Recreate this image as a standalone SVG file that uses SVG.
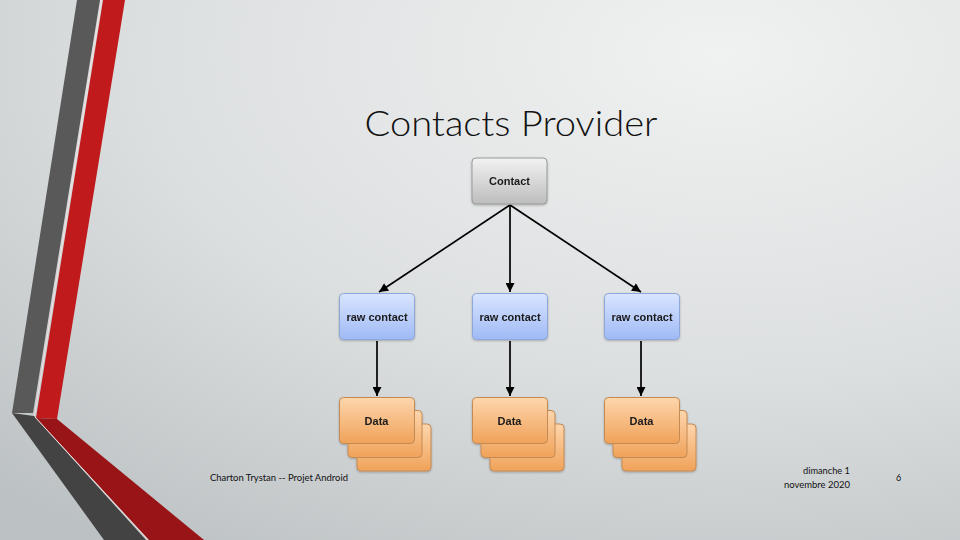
<svg xmlns="http://www.w3.org/2000/svg" width="960" height="540" viewBox="0 0 960 540">
<defs>
<radialGradient id="bg" cx="0.75" cy="0.1" r="1.1">
<stop offset="0" stop-color="#f0f1f1"/>
<stop offset="0.55" stop-color="#dcdfe0"/>
<stop offset="1" stop-color="#bcc1c3"/>
</radialGradient>
<linearGradient id="gGray" x1="0" y1="0" x2="0" y2="1">
<stop offset="0" stop-color="#f2f2f2"/>
<stop offset="1" stop-color="#bdbdbd"/>
</linearGradient>
<linearGradient id="gBlue" x1="0" y1="0" x2="0" y2="1">
<stop offset="0" stop-color="#d9e5ff"/>
<stop offset="1" stop-color="#9fbaf5"/>
</linearGradient>
<linearGradient id="gOrange" x1="0" y1="0" x2="0" y2="1">
<stop offset="0" stop-color="#fdd6ad"/>
<stop offset="1" stop-color="#f0a259"/>
</linearGradient>
<marker id="arr" viewBox="0 0 10 10" refX="10" refY="5" markerWidth="10" markerHeight="9" markerUnits="userSpaceOnUse" orient="auto">
<path d="M0,0 L10,5 L0,10 z" fill="#000"/>
</marker>
<filter id="sh" x="-10%" y="-10%" width="130%" height="130%">
<feDropShadow dx="0" dy="1" stdDeviation="0.8" flood-color="#000" flood-opacity="0.25"/>
</filter>
</defs>
<style>
.gray{fill:url(#gGray);stroke:#9a9a9a;stroke-width:1}
.blue{fill:url(#gBlue);stroke:#8ea6d8;stroke-width:1}
.orange{fill:url(#gOrange);stroke:#c48a52;stroke-width:1}
.lbl{font-family:"Liberation Sans",Arial,sans-serif;font-weight:bold;font-size:11px;fill:#1a1a1a;text-anchor:middle}
.conn line{stroke:#000;stroke-width:1.7;marker-end:url(#arr)}
.foot{font-family:Lato,"Open Sans",sans-serif;font-size:9px;fill:#111}
</style>
<rect width="960" height="540" fill="url(#bg)"/>
<g id="decor">
<polygon points="77,0 100,0 33,413 12,413" fill="#595959"/>
<polygon points="12,413 34,416 146,540 104,540" fill="#434343"/>
<polygon points="103,0 125,0 57,419 36,418" fill="#c01a1d"/>
<polygon points="36,418 57,419 204,540 149,540" fill="#981416"/>
<line x1="35" y1="417" x2="148" y2="540" stroke="#f0e0e0" stroke-width="1"/>
<line x1="101.5" y1="0" x2="34.5" y2="416" stroke="#f0e0e0" stroke-width="1"/>
</g>
<text id="title" x="511" y="136" font-family="Lato,'Open Sans',sans-serif" font-weight="300" font-size="36" fill="#111" text-anchor="middle" textLength="293" lengthAdjust="spacingAndGlyphs">Contacts Provider</text>
<g class="conn" id="connectors">
<line x1="510" y1="205" x2="379" y2="292"/>
<line x1="510" y1="205" x2="510" y2="292"/>
<line x1="510" y1="205" x2="641" y2="292"/>
<line x1="377" y1="341" x2="377" y2="396"/>
<line x1="510" y1="341" x2="510" y2="396"/>
<line x1="641" y1="341" x2="641" y2="396"/>
</g>
<g id="contact" filter="url(#sh)">
<rect class="gray" x="472" y="158" width="75" height="46" rx="4"/>
<text class="lbl" x="509.5" y="185">Contact</text>
</g>
<g id="raw1" filter="url(#sh)">
<rect class="blue" x="339.5" y="293.5" width="75" height="46" rx="4"/>
<text class="lbl" x="377" y="321">raw contact</text>
</g>
<g id="raw2" filter="url(#sh)">
<rect class="blue" x="472.5" y="293.5" width="75" height="46" rx="4"/>
<text class="lbl" x="510" y="321">raw contact</text>
</g>
<g id="raw3" filter="url(#sh)">
<rect class="blue" x="604.5" y="293.5" width="75" height="46" rx="4"/>
<text class="lbl" x="642" y="321">raw contact</text>
</g>
<g id="data1" filter="url(#sh)">
<rect class="orange" x="357" y="424" width="74" height="47" rx="4"/>
<rect class="orange" x="348" y="410.5" width="74" height="47" rx="4"/>
<rect class="orange" x="339.5" y="397.5" width="75" height="46" rx="4"/>
<text class="lbl" x="376.5" y="425">Data</text>
</g>
<g id="data2" filter="url(#sh)">
<rect class="orange" x="490" y="424" width="74" height="47" rx="4"/>
<rect class="orange" x="481" y="410.5" width="74" height="47" rx="4"/>
<rect class="orange" x="472.5" y="397.5" width="75" height="46" rx="4"/>
<text class="lbl" x="509.5" y="425">Data</text>
</g>
<g id="data3" filter="url(#sh)">
<rect class="orange" x="622" y="424" width="74" height="47" rx="4"/>
<rect class="orange" x="613" y="410.5" width="74" height="47" rx="4"/>
<rect class="orange" x="604.5" y="397.5" width="75" height="46" rx="4"/>
<text class="lbl" x="641.5" y="425">Data</text>
</g>
<g id="footer">
<text class="foot" x="210" y="481" textLength="138" lengthAdjust="spacingAndGlyphs">Charton Trystan -- Projet Android</text>
<text class="foot" x="850" y="474" text-anchor="end" textLength="47" lengthAdjust="spacingAndGlyphs">dimanche 1</text>
<text class="foot" x="850" y="488" text-anchor="end" textLength="66" lengthAdjust="spacingAndGlyphs">novembre 2020</text>
<text class="foot" x="896" y="481" font-size="10">6</text>
</g>
</svg>
